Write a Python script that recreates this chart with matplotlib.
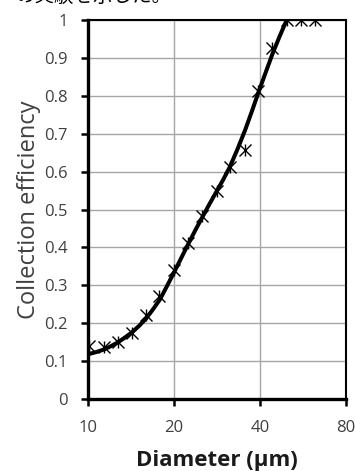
import matplotlib
matplotlib.use('Agg')
import matplotlib.pyplot as plt
from matplotlib.ticker import FixedLocator, NullLocator

# measured points (diameter in um, collection efficiency)
diam = [10.1, 11.4, 12.7, 14.2, 16.0, 17.7, 20.0, 22.4, 25.1, 28.2,
        31.4, 35.5, 39.5, 44.2, 49.6, 55.5, 62.3]
eff = [0.140, 0.138, 0.151, 0.175, 0.221, 0.272, 0.341, 0.412, 0.483, 0.550,
       0.612, 0.658, 0.812, 0.926, 1.0, 1.0, 1.0]

# fitted curve
curve_d = [10, 10.7, 11.4, 12.0, 12.7, 13.4, 14.2, 15.1, 16.0, 16.9, 17.9, 18.9,
           20.0, 21.2, 22.4, 23.7, 25.1, 26.6, 28.2, 29.8, 31.4, 33.4, 35.5,
           37.5, 39.5, 41.8, 44.2, 46.8, 49.6]
curve_eff = [0.118, 0.124, 0.131, 0.139, 0.149, 0.161, 0.175, 0.193, 0.213, 0.237,
             0.264, 0.298, 0.334, 0.372, 0.408, 0.444, 0.479, 0.514, 0.548, 0.580,
             0.613, 0.660, 0.710, 0.760, 0.809, 0.860, 0.910, 0.956, 1.0]

xticks = [10, 20, 40, 80]
yticks = [0, 0.1, 0.2, 0.3, 0.4, 0.5, 0.6, 0.7, 0.8, 0.9, 1]
ylabels = ['0', '0.1', '0.2', '0.3', '0.4', '0.5', '0.6', '0.7', '0.8', '0.9', '1']

plt.rcParams['font.family'] = ['Open Sans', 'DejaVu Sans']

fig = plt.figure(figsize=(3.55, 4.71), dpi=100)
ax = fig.add_axes([88/355, 1 - 399/471, 258/355, 379/471])

ax.plot(curve_d, curve_eff, color='black', lw=2.9, solid_capstyle='butt', zorder=3)
ax.plot(diam, eff, ls='none', marker='x', ms=8, mew=1.0, color='black', zorder=4)
ax.plot(diam, eff, ls='none', marker='|', ms=8, mew=1.0, color='black', zorder=4)

ax.set_xscale('log')
ax.set_xlim(10, 80)
ax.set_ylim(0, 1)
ax.xaxis.set_major_locator(FixedLocator(xticks))
ax.xaxis.set_minor_locator(NullLocator())
ax.set_xticklabels([str(t) for t in xticks])
ax.set_yticks(yticks)
ax.set_yticklabels(ylabels)

ax.grid(True, color='#a6a6a6', lw=1.0)
ax.set_axisbelow(True)

for s in ['left', 'bottom']:
    ax.spines[s].set_linewidth(2.4)
for s in ['top', 'right']:
    ax.spines[s].set_linewidth(1.5)

ax.tick_params(axis='both', direction='out', length=5, width=1.8, color='black',
               labelsize=12, labelcolor='#404040')
ax.tick_params(axis='y', pad=9.5)
ax.tick_params(axis='x', pad=10)
ax.tick_params(top=False, right=False)

ax.set_ylabel('Collection efficiency', fontsize=17, color='#404040', labelpad=2)
ax.set_xlabel('Diameter (μm)', fontsize=16, fontweight='bold', color='#1a1a1a', labelpad=10)

# clipped caption line from the page above the chart
fig.text(15/355, 1 + 14/471, 'の実験を示した。', fontsize=14, va='top', ha='left',
         family=['Noto Sans CJK JP', 'DejaVu Sans'], color='black')

fig.savefig('out.png', dpi=100)
